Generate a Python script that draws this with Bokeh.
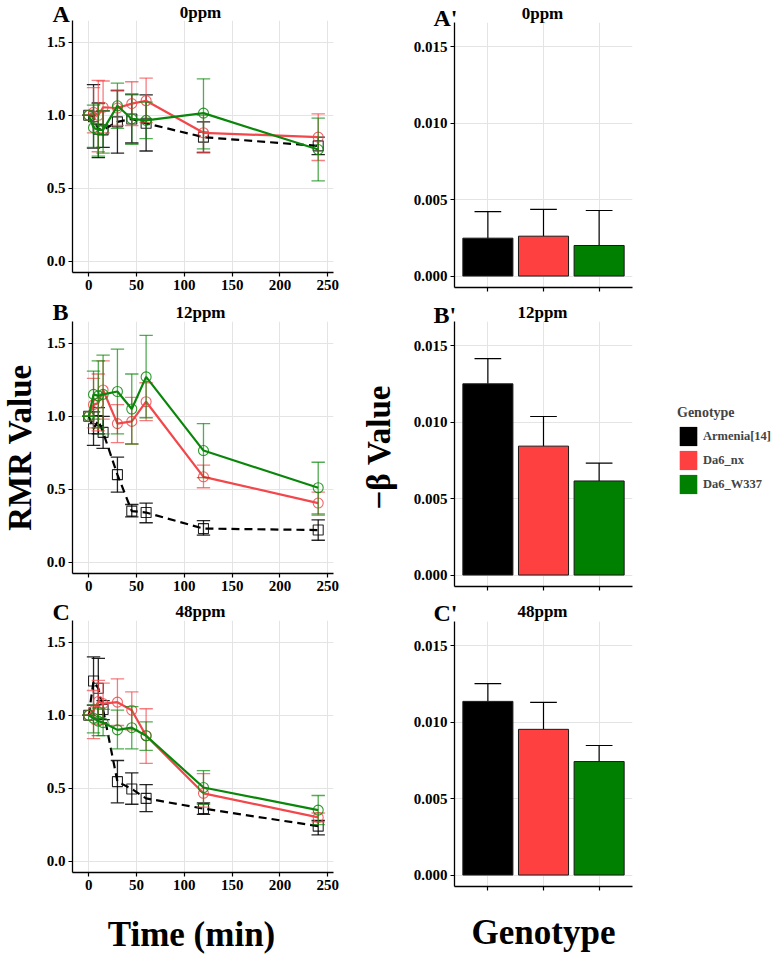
import numpy as np
from bokeh.plotting import figure
from bokeh.models import (ColumnDataSource, Range1d, Label, Legend, LegendItem,
                          FixedTicker, NumeralTickFormatter)
from bokeh.layouts import row, column
from bokeh.embed import file_html
from bokeh.resources import INLINE

FONT = "Liberation Serif"

# ---------------- data ----------------
time_min = [0, 5, 10, 15, 30, 45, 60, 120, 240]
genotypes = ["Armenia[14]", "Da6_nx", "Da6_W337"]
concentrations = ["0ppm", "12ppm", "48ppm"]

# 0 ppm : RMR mean, lower and upper error-bar ends
arm_0_mean = [1.0, 0.99, 0.905, 0.90, 0.955, 0.975, 0.945, 0.85, 0.79]
arm_0_lo = [1.0, 0.775, 0.71, 0.78, 0.74, 0.81, 0.755, 0.745, 0.73]
arm_0_hi = [1.0, 1.21, 1.085, 1.03, 1.17, 1.145, 1.14, 0.955, 0.85]
nx_0_mean = [1.0, 1.02, 1.0, 1.055, 1.05, 1.08, 1.10, 0.88, 0.85]
nx_0_lo = [1.0, 0.88, 0.75, 0.88, 0.93, 0.93, 0.95, 0.745, 0.69]
nx_0_hi = [1.0, 1.19, 1.24, 1.235, 1.17, 1.23, 1.255, 1.0, 1.01]
w337_0_mean = [1.0, 0.915, 0.90, 0.90, 1.065, 0.975, 0.965, 1.015, 0.765]
w337_0_lo = [1.0, 0.78, 0.72, 0.74, 0.91, 0.80, 0.84, 0.77, 0.55]
w337_0_hi = [1.0, 1.07, 1.08, 1.03, 1.22, 1.14, 1.09, 1.25, 0.98]

# 12 ppm
arm_12_mean = [1.0, 0.915, 0.97, 0.89, 0.60, 0.35, 0.34, 0.23, 0.22]
arm_12_lo = [1.0, 0.80, 0.88, 0.78, 0.48, 0.31, 0.27, 0.185, 0.15]
arm_12_hi = [1.0, 1.03, 1.06, 1.00, 0.72, 0.395, 0.405, 0.285, 0.29]
nx_12_mean = [1.0, 1.08, 1.09, 1.18, 0.95, 0.965, 1.10, 0.585, 0.405]
nx_12_lo = [1.0, 0.92, 0.90, 0.98, 0.82, 0.81, 0.97, 0.51, 0.32]
nx_12_hi = [1.0, 1.26, 1.29, 1.38, 1.08, 1.13, 1.23, 0.665, 0.48]
w337_12_mean = [1.0, 1.15, 1.14, 1.15, 1.17, 1.05, 1.27, 0.765, 0.51]
w337_12_lo = [1.0, 0.98, 0.92, 0.88, 0.88, 0.81, 0.99, 0.58, 0.33]
w337_12_hi = [1.0, 1.31, 1.38, 1.42, 1.46, 1.29, 1.555, 0.95, 0.685]

# 48 ppm
arm_48_mean = [1.0, 1.235, 1.185, 1.04, 0.545, 0.495, 0.43, 0.36, 0.24]
arm_48_lo = [1.0, 1.07, 0.98, 0.97, 0.40, 0.39, 0.34, 0.32, 0.18]
arm_48_hi = [1.0, 1.40, 1.39, 1.10, 0.69, 0.605, 0.525, 0.40, 0.28]
nx_48_mean = [1.0, 1.03, 1.095, 1.08, 1.09, 1.035, 0.86, 0.465, 0.30]
nx_48_lo = [1.0, 0.84, 0.94, 0.94, 0.93, 0.90, 0.67, 0.37, 0.27]
nx_48_hi = [1.0, 1.17, 1.24, 1.22, 1.25, 1.16, 1.045, 0.60, 0.33]
w337_48_mean = [1.0, 0.98, 0.96, 0.95, 0.90, 0.915, 0.86, 0.505, 0.35]
w337_48_lo = [1.0, 0.88, 0.86, 0.86, 0.77, 0.77, 0.76, 0.39, 0.25]
w337_48_hi = [1.0, 1.07, 1.05, 1.04, 1.035, 1.06, 0.955, 0.62, 0.45]

# -beta values (bars) and upper error-bar ends
beta_0ppm = [0.00248, 0.00261, 0.00200]
beta_0ppm_hi = [0.00422, 0.00436, 0.00429]
beta_12ppm = [0.01252, 0.00844, 0.00616]
beta_12ppm_hi = [0.01417, 0.01038, 0.00733]
beta_48ppm = [0.01137, 0.00954, 0.00743]
beta_48ppm_hi = [0.01253, 0.01131, 0.00848]

time_ticks = [0, 50, 100, 150, 200, 250]
rmr_ticks = [0.0, 0.5, 1.0, 1.5]
beta_ticks = [0.0, 0.005, 0.010, 0.015]

bar_colors = ["#000000", "#FF4040", "#008000"]
line_colors = ["#000000", "#F2474B", "#0A870A"]
markers = ["square", "circle", "circle"]
dashes = ["8 5", "solid", "solid"]

series = {
    "0ppm": [(arm_0_mean, arm_0_lo, arm_0_hi), (nx_0_mean, nx_0_lo, nx_0_hi),
             (w337_0_mean, w337_0_lo, w337_0_hi)],
    "12ppm": [(arm_12_mean, arm_12_lo, arm_12_hi), (nx_12_mean, nx_12_lo, nx_12_hi),
              (w337_12_mean, w337_12_lo, w337_12_hi)],
    "48ppm": [(arm_48_mean, arm_48_lo, arm_48_hi), (nx_48_mean, nx_48_lo, nx_48_hi),
              (w337_48_mean, w337_48_lo, w337_48_hi)],
}
bars = {"0ppm": (beta_0ppm, beta_0ppm_hi), "12ppm": (beta_12ppm, beta_12ppm_hi),
        "48ppm": (beta_48ppm, beta_48ppm_hi)}


def style(p, xticks, yticks, yfmt, xlabels=True):
    p.xaxis.ticker = FixedTicker(ticks=xticks)
    p.yaxis.ticker = FixedTicker(ticks=yticks)
    p.yaxis.formatter = NumeralTickFormatter(format=yfmt)
    for ax in p.axis:
        ax.axis_line_color = "black"
        ax.axis_line_width = 1.3
        ax.major_tick_line_color = "black"
        ax.major_tick_line_width = 1.2
        ax.major_tick_in = 0
        ax.major_tick_out = 4
        ax.minor_tick_line_color = None
        ax.major_label_text_font = FONT
        ax.major_label_text_font_style = "bold"
        ax.major_label_text_font_size = "15px"
        ax.major_label_text_color = "black"
        ax.major_label_standoff = 3
    if not xlabels:
        p.xaxis.major_label_text_font_size = "0px"
        p.xaxis.major_label_text_color = None
    p.grid.grid_line_color = "#E4E4E4"
    p.grid.grid_line_width = 1
    p.outline_line_color = None
    p.background_fill_color = None
    p.border_fill_color = None


def strip(w, h):
    s = figure(width=w, height=h, x_range=Range1d(0, 1), y_range=Range1d(0, 1),
               output_backend="svg", toolbar_location=None, min_border=0,
               x_axis_location=None, y_axis_location=None)
    s.grid.visible = False
    s.outline_line_color = None
    s.background_fill_color = None
    s.border_fill_color = None
    return s


def add_text(p, text, x, y, size, align="left", angle=0.0, baseline="alphabetic"):
    p.add_layout(Label(x=x, y=y, x_units="screen", y_units="screen", text=text,
                       text_font=FONT, text_font_style="bold", text_font_size=size,
                       text_align=align, text_baseline=baseline, angle=angle,
                       text_color="black"))


def line_panel(conc, height, bottom):
    p = figure(width=307, height=height, x_range=Range1d(-17, 256),
               y_range=Range1d(-0.078, 1.65), output_backend="svg",
               toolbar_location=None, min_border_left=34, min_border_right=12,
               min_border_top=0, min_border_bottom=bottom)
    style(p, time_ticks, rmr_ticks, "0.0")
    cap = 7
    for (mean, lo, hi), col, mk, dash in zip(series[conc], line_colors, markers, dashes):
        src = ColumnDataSource(dict(t=time_min, m=mean, lo=lo, hi=hi,
                                    t0=[t - cap for t in time_min],
                                    t1=[t + cap for t in time_min]))
        ea = 0.85 if col == "#000000" else 0.7
        p.segment(x0="t", y0="lo", x1="t", y1="hi", source=src, line_color=col,
                  line_width=1.3, line_alpha=ea)
        p.segment(x0="t0", y0="hi", x1="t1", y1="hi", source=src, line_color=col,
                  line_width=1.3, line_alpha=ea)
        p.segment(x0="t0", y0="lo", x1="t1", y1="lo", source=src, line_color=col,
                  line_width=1.3, line_alpha=ea)
        p.line(x="t", y="m", source=src, line_color=col, line_width=2.2, line_dash=dash)
        p.scatter(x="t", y="m", source=src, marker=mk, size=10, fill_color=None,
                  line_color=col, line_width=1.1, line_alpha=0.85)
    return p


BETA_LO = -0.00075
BETA_PX = 15274.0  # pixels per unit of -beta (shared scale)


def bar_panel(conc, height, frame_h, bottom):
    p = figure(width=242, height=height, x_range=Range1d(0.4, 3.6),
               y_range=Range1d(BETA_LO, BETA_LO + frame_h / BETA_PX), output_backend="svg",
               toolbar_location=None, min_border_left=56, min_border_right=8,
               min_border_top=0, min_border_bottom=bottom)
    xs = list(np.arange(1, len(genotypes) + 1))
    style(p, xs, beta_ticks, "0.000", xlabels=False)
    vals, his = bars[conc]
    src = ColumnDataSource(dict(x=xs, top=vals, hi=his, g=genotypes,
                                x0=[x - 0.24 for x in xs], x1=[x + 0.24 for x in xs],
                                c=bar_colors))
    p.segment(x0="x", y0="top", x1="x", y1="hi", source=src, line_color="black", line_width=1.2)
    p.segment(x0="x0", y0="hi", x1="x1", y1="hi", source=src, line_color="black", line_width=1.2)
    p.vbar(x="x", top="top", bottom=0, width=0.9, source=src, fill_color="c",
           line_color="#1a1a1a", line_width=1)
    return p


def holder(fig, top, bottom):
    # wrapper so the text strip is not frame-aligned; negative margins let it overlap
    return column(fig, margin=(top, 0, bottom, 0))


# ---- y-axis title column ----
ylab = strip(38, 956)
add_text(ylab, "RMR Value", 19, 509, "33px", align="center", angle=np.pi / 2, baseline="middle")

# ---- time-course column ----
sA = strip(307, 30)
add_text(sA, "A", 14, 16.4, "24px")
add_text(sA, "0ppm", 162, 17.7, "17px", align="center")
pA = line_panel("0ppm", 280, 28)
sB = strip(307, 42)
add_text(sB, "B", 14, 18.3, "24px")
add_text(sB, "12ppm", 162, 17.7, "17px", align="center")
pB = line_panel("12ppm", 279, 27)
sC = strip(307, 42)
add_text(sC, "C", 14, 18.3, "24px")
add_text(sC, "48ppm", 162, 18.7, "17px", align="center")
pC = line_panel("48ppm", 280, 28)
sT = strip(307, 66)
add_text(sT, "Time (min)", 153, 21.7, "35px", align="center")
left_col = column(holder(sA, 0, -10), pA, holder(sB, -12, -9), pB,
                  holder(sC, -12, -10), pC, holder(sT, -10, 0))

# ---- beta title column ----
blab = strip(53, 956)
add_text(blab, "\u2212\u03b2 Value", 33, 509, "33px", align="center", angle=np.pi / 2, baseline="middle")

# ---- bar column ----
tA = strip(242, 30)
add_text(tA, "A'", 35, 12.3, "24px")
add_text(tA, "0ppm", 144, 16.7, "17px", align="center")
qA = bar_panel("0ppm", 278, 265, 13)
tB = strip(242, 42)
add_text(tB, "B'", 35, 15.3, "24px")
add_text(tB, "12ppm", 144, 17.7, "17px", align="center")
qB = bar_panel("12ppm", 279, 265, 14)
tC = strip(242, 42)
add_text(tC, "C'", 35, 17.3, "24px")
add_text(tC, "48ppm", 144, 18.7, "17px", align="center")
qC = bar_panel("48ppm", 279, 265, 14)
tG = strip(242, 66)
add_text(tG, "Genotype", 145, 23.7, "35px", align="center")
right_col = column(holder(tA, 0, -8), qA, holder(tB, -12, -9), qB,
                   holder(tC, -12, -9), qC, holder(tG, -10, 0))

# ---- legend column ----
lg = figure(width=131, height=956, x_range=Range1d(0.4, 3.6), y_range=Range1d(0, 0.0166),
            output_backend="svg", toolbar_location=None, min_border=0,
            x_axis_location=None, y_axis_location=None)
lg.grid.visible = False
lg.outline_line_color = None
items = []
for i, (g, c) in enumerate(zip(genotypes, bar_colors)):
    r = lg.vbar(x=[i + 1], top=[beta_12ppm[i]], width=0.9, fill_color=c, line_color=None)
    r.visible = False
    items.append(LegendItem(label=g, renderers=[r]))
legend = Legend(items=items, location=(37, 460), title="Genotype",
                title_text_font=FONT, title_text_font_style="bold", title_text_font_size="14px",
                title_standoff=3,
                label_text_font=FONT, label_text_font_style="bold", label_text_font_size="12.5px",
                glyph_width=22, glyph_height=24, label_height=24, label_standoff=4,
                spacing=0, padding=0, margin=0, border_line_color=None,
                background_fill_alpha=0)
lg.add_layout(legend)

layout = row(ylab, left_col, blab, right_col, lg)

with open("out.html", "w") as f:
    f.write(file_html(layout, INLINE))
